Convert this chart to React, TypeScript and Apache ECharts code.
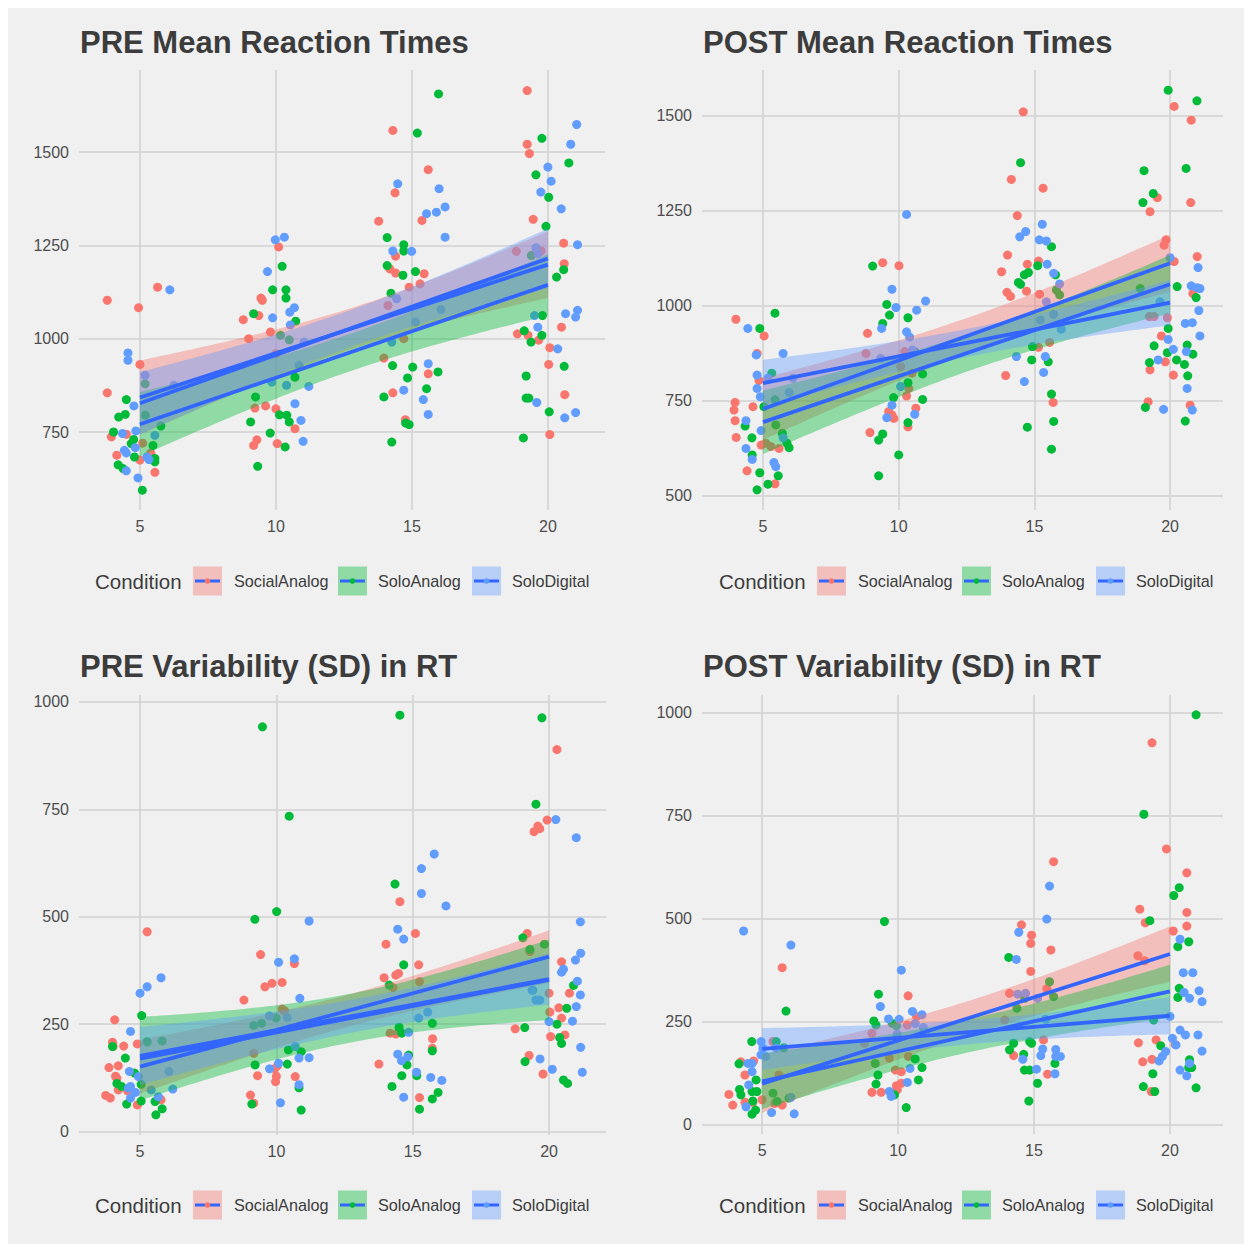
import React, { useEffect, useRef } from "react";
import * as echarts from "echarts";

// ---------------- data ----------------
const CONDITIONS = ["SocialAnalog", "SoloAnalog", "SoloDigital"];
const COLORS = ["#F8766D", "#00BA38", "#619CFF"];
const LINE_COLOR = "#3366FF";
const X_TICKS = [5, 10, 15, 20];
const MEAN_Y_TICKS_PRE = [750, 1000, 1250, 1500];
const MEAN_Y_TICKS_POST = [500, 750, 1000, 1250, 1500];
const SD_Y_TICKS = [0, 250, 500, 750, 1000];
const TITLES = ["PRE Mean Reaction Times", "POST Mean Reaction Times", "PRE Variability (SD) in RT", "POST Variability (SD) in RT"];

// [jittered x, value]
const PRE_MEAN_SOCIAL = [
  [3.8, 1103], [3.8, 855], [4.95, 1083], [5.0, 931], [5.65, 1138], [3.95, 737], [4.15, 688], [4.5, 744], [5.0, 675], [5.55, 642], [5.4, 694], [5.1, 720],
  [8.8, 1051], [9.0, 1000], [9.23, 814], [9.3, 729], [9.18, 714], [9.37, 1062], [9.45, 1109], [9.5, 1103], [9.8, 1018], [9.62, 820], [10.0, 960], [10.0, 812], [10.05, 719], [10.1, 1246], [10.7, 759],
  [13.78, 1315], [14.3, 1558], [14.38, 1391], [14.12, 1089], [13.97, 948], [14.19, 1187], [14.4, 1176], [14.4, 1221], [14.3, 855], [14.7, 1000], [14.76, 783], [14.9, 1138], [15.3, 1147], [15.37, 1317], [15.45, 1174], [15.6, 1453], [15.6, 906],
  [19.24, 1665], [19.24, 1521], [19.32, 1496], [19.46, 1320], [18.84, 1234], [18.88, 1013], [19.27, 1009], [19.66, 996], [20.07, 976], [20.03, 931], [20.07, 743], [19.75, 1235], [20.58, 1256], [20.6, 1201], [20.5, 1031], [20.62, 850],
];
const PRE_MEAN_SOLOANALOG = [
  [4.03, 750], [4.22, 790], [4.46, 797], [4.5, 837], [4.68, 719], [4.77, 730], [4.8, 683], [4.2, 662], [4.38, 652], [5.09, 594], [5.19, 879], [5.2, 795], [5.48, 714], [5.55, 679], [5.55, 670], [5.77, 766],
  [9.18, 1067], [9.25, 844], [9.07, 777], [9.79, 747], [9.33, 658], [9.88, 1131], [10.17, 1009], [10.23, 1194], [10.37, 1131], [10.37, 1109], [10.49, 997], [10.13, 796], [10.4, 795], [10.49, 777], [10.34, 710], [10.7, 897], [10.73, 1047],
  [14.09, 1271], [14.09, 1196], [14.23, 1122], [13.97, 844], [14.26, 723], [14.29, 928], [14.7, 1252], [14.7, 1235], [14.67, 1170], [14.84, 895], [14.77, 774], [14.9, 770], [15.03, 924], [15.13, 1180], [15.2, 1551], [15.54, 866], [15.96, 911], [15.98, 1656],
  [19.1, 734], [19.2, 900], [19.2, 841], [19.3, 841], [19.13, 1021], [19.38, 991], [19.39, 1223], [19.56, 1439], [19.78, 1537], [19.8, 1062], [19.78, 1009], [19.93, 1301], [20.03, 1379], [20.05, 804], [20.32, 1165], [20.58, 1185], [20.6, 926], [20.77, 1471],
];
const PRE_MEAN_SOLODIGITAL = [
  [4.56, 962], [4.56, 942], [4.78, 820], [5.19, 902], [4.36, 746], [4.85, 753], [4.43, 701], [4.5, 694], [4.83, 708], [5.26, 683], [4.93, 627], [4.5, 646], [6.1, 1131], [6.25, 875], [5.55, 741], [5.33, 676],
  [9.98, 1265], [10.31, 1272], [9.69, 1180], [9.88, 1056], [10.51, 1071], [10.68, 1083], [10.53, 1037], [11.04, 991], [11.21, 872], [10.7, 826], [10.92, 781], [11.0, 725], [9.85, 884], [10.39, 875], [10.85, 929],
  [14.48, 1415], [14.3, 1235], [14.99, 1234], [14.44, 1107], [14.26, 991], [14.7, 862], [15.54, 1335], [15.9, 1339], [16.22, 1353], [16.0, 1402], [16.22, 1272], [15.6, 933], [15.42, 837], [15.6, 797], [15.13, 1045], [16.07, 1078],
  [21.06, 1574], [20.84, 1521], [20.0, 1460], [20.12, 1422], [19.74, 1393], [20.49, 1348], [19.56, 1244], [19.63, 1228], [21.09, 1252], [21.09, 1076], [21.02, 1058], [20.65, 1067], [19.51, 1062], [19.63, 1031], [20.36, 973], [19.59, 829], [20.62, 788], [21.02, 802],
];

const POST_MEAN_SOCIAL = [
  [4.0, 965], [3.97, 746], [3.93, 726], [3.97, 698], [4.01, 654], [4.41, 566], [4.63, 735], [4.78, 875], [4.85, 804], [5.04, 921], [4.93, 634], [5.44, 532], [5.29, 630], [5.59, 625], [5.1, 639],
  [8.85, 928], [8.79, 875], [8.94, 667], [9.41, 1114], [10.01, 1106], [9.63, 722], [9.75, 713], [9.82, 704], [10.22, 880], [10.07, 840], [10.29, 763], [10.37, 783], [10.34, 682], [10.63, 731], [10.49, 823],
  [14.59, 1511], [14.15, 1333], [14.37, 1238], [14.01, 1134], [13.79, 1090], [13.99, 1036], [14.12, 1025], [14.74, 1110], [14.71, 1039], [15.32, 1310], [15.15, 1118], [15.19, 1031], [13.94, 817], [15.15, 891], [15.56, 904], [15.69, 746],
  [20.15, 1525], [20.78, 1489], [19.53, 1285], [19.26, 1248], [20.76, 1272], [19.85, 1174], [19.78, 1160], [21.0, 1130], [20.15, 1117], [20.84, 1033], [19.9, 969], [19.24, 972], [19.41, 972], [19.68, 921], [19.26, 832], [19.82, 853], [20.12, 818], [19.19, 748], [20.74, 739],
];
const POST_MEAN_SOLOANALOG = [
  [4.88, 941], [5.44, 981], [5.32, 823], [5.03, 735], [5.44, 753], [5.47, 687], [5.71, 665], [5.88, 639], [5.96, 627], [4.34, 684], [4.59, 653], [4.6, 608], [4.88, 561], [4.78, 516], [5.18, 531], [5.56, 553],
  [9.04, 1105], [9.56, 1004], [9.66, 976], [9.41, 954], [10.34, 969], [9.81, 759], [10.34, 798], [10.88, 821], [10.88, 754], [10.34, 693], [9.41, 663], [9.26, 647], [10.0, 608], [9.26, 553], [10.59, 880],
  [14.49, 1377], [14.41, 1062], [14.49, 1057], [14.63, 1082], [14.78, 1088], [15.12, 1106], [15.63, 1156], [15.78, 1082], [15.81, 1042], [15.93, 1029], [14.93, 893], [14.9, 858], [15.51, 853], [15.63, 768], [15.71, 696], [14.74, 681], [15.63, 623],
  [19.93, 1568], [20.99, 1540], [19.04, 1356], [20.59, 1362], [19.38, 1296], [19.0, 1272], [20.26, 1051], [20.96, 1022], [19.93, 941], [19.41, 895], [19.24, 851], [19.9, 877], [20.24, 858], [20.53, 846], [20.63, 897], [20.84, 873], [20.65, 816], [19.09, 733], [20.56, 697], [18.9, 1046],
];
const POST_MEAN_SOLODIGITAL = [
  [4.44, 941], [4.75, 871], [4.78, 818], [4.78, 783], [5.18, 810], [5.74, 875], [6.1, 810], [5.96, 772], [4.9, 761], [4.37, 698], [4.93, 672], [4.37, 625], [4.6, 596], [5.4, 588], [5.47, 577], [5.74, 653],
  [10.29, 1241], [9.75, 1044], [9.9, 996], [10.66, 989], [10.99, 1013], [9.37, 941], [10.29, 932], [10.4, 918], [9.75, 739], [9.56, 706], [10.59, 715], [10.07, 788], [9.34, 862], [10.51, 884],
  [15.29, 1215], [14.68, 1196], [14.46, 1182], [15.18, 1174], [15.44, 1171], [15.47, 1110], [15.71, 1086], [15.93, 1058], [15.44, 1011], [15.99, 939], [14.34, 867], [15.4, 867], [15.34, 825], [14.63, 801], [15.22, 963], [15.71, 978],
  [20.0, 1127], [21.03, 1101], [20.78, 1053], [21.0, 1048], [21.1, 1046], [21.06, 988], [21.1, 921], [20.82, 956], [20.56, 954], [19.93, 912], [20.12, 886], [20.6, 880], [19.56, 858], [20.63, 783], [19.76, 728], [20.82, 726], [19.63, 1011],
];

const PRE_SD_SOCIAL = [
  [4.07, 260], [5.26, 465], [3.99, 208], [4.01, 198], [4.4, 199], [4.9, 204], [3.86, 149], [4.2, 153], [4.1, 129], [4.15, 124], [4.2, 97], [3.74, 84], [3.91, 78], [4.9, 62], [4.54, 95], [5.77, 74],
  [8.81, 306], [9.05, 85], [9.17, 66], [9.42, 412], [9.58, 337], [9.84, 345], [10.21, 347], [10.21, 285], [10.3, 281], [10.66, 391], [9.31, 130], [9.94, 146], [10.0, 129], [9.97, 116], [10.04, 153], [10.69, 128], [9.17, 182],
  [14.02, 436], [14.53, 535], [13.95, 358], [14.28, 335], [14.38, 364], [14.48, 368], [15.1, 461], [15.22, 388], [15.25, 349], [13.76, 157], [14.17, 229], [14.38, 227], [15.73, 216], [15.72, 194], [15.25, 79],
  [20.29, 889], [19.93, 725], [19.45, 698], [19.66, 705], [19.59, 711], [19.2, 461], [19.3, 419], [18.76, 239], [19.27, 177], [19.78, 134], [20.0, 322], [20.03, 278], [20.06, 221], [20.46, 395], [20.36, 288], [20.46, 264], [20.58, 225], [20.75, 322],
];
const PRE_SD_SOLOANALOG = [
  [3.99, 198], [4.15, 112], [4.32, 105], [4.46, 171], [4.51, 64], [5.06, 270], [5.26, 209], [5.81, 211], [5.04, 110], [5.04, 71], [5.55, 70], [5.58, 39], [5.81, 53], [4.8, 136],
  [9.49, 942], [10.47, 734], [10.01, 512], [9.21, 494], [9.17, 247], [9.46, 252], [9.99, 264], [9.22, 155], [9.1, 64], [10.4, 157], [10.44, 190], [10.91, 186], [10.83, 102], [10.91, 50],
  [14.53, 969], [14.35, 576], [14.67, 388], [14.14, 341], [14.5, 243], [14.6, 229], [14.85, 178], [14.79, 155], [14.6, 130], [14.24, 105], [15.15, 130], [15.25, 52], [15.72, 252], [15.72, 188], [15.72, 76], [15.93, 91],
  [19.74, 963], [19.52, 762], [19.04, 451], [19.3, 424], [19.83, 436], [19.11, 242], [19.12, 163], [20.29, 250], [20.39, 219], [20.46, 205], [20.65, 287], [20.9, 340], [20.53, 120], [20.68, 112], [19.4, 329],
];
const PRE_SD_SOLODIGITAL = [
  [5.0, 322], [5.26, 337], [5.77, 358], [4.65, 233], [4.61, 140], [4.94, 128], [4.57, 101], [4.65, 105], [4.83, 91], [4.65, 78], [5.41, 97], [5.67, 81], [6.2, 99], [6.06, 140],
  [10.08, 394], [10.66, 402], [11.2, 490], [10.86, 310], [9.75, 269], [10.4, 265], [10.69, 198], [10.83, 171], [11.2, 172], [10.08, 159], [9.75, 146], [10.15, 67], [10.83, 109],
  [15.79, 646], [15.32, 612], [15.32, 554], [16.22, 525], [14.45, 471], [14.67, 448], [14.85, 231], [15.22, 264], [14.45, 180], [14.59, 165], [14.82, 174], [15.14, 138], [15.66, 126], [16.07, 119], [14.67, 80], [15.55, 278],
  [20.25, 726], [21.0, 684], [21.15, 488], [21.16, 415], [20.97, 399], [21.04, 350], [21.15, 318], [21.0, 291], [20.46, 371], [20.53, 378], [20.86, 257], [20.0, 256], [21.16, 196], [19.67, 169], [20.12, 145], [21.22, 138], [19.52, 306], [19.66, 306], [19.38, 329],
];

const POST_SD_SOCIAL = [
  [3.78, 74], [3.92, 48], [4.22, 153], [4.37, 121], [4.69, 155], [4.37, 55], [4.66, 55], [5.74, 381], [5.4, 202], [5.62, 121], [5.0, 61], [5.74, 48], [5.47, 52],
  [8.76, 198], [9.04, 222], [9.04, 79], [9.38, 79], [10.37, 313], [10.34, 242], [10.68, 263], [9.9, 133], [10.12, 129], [9.94, 95], [10.12, 101], [9.97, 85], [10.38, 166], [9.68, 162],
  [15.72, 638], [14.54, 485], [14.91, 460], [14.88, 440], [14.88, 372], [15.62, 424], [14.1, 319], [15.47, 330], [14.25, 168], [15.35, 206], [15.5, 123], [13.92, 254],
  [19.34, 926], [19.87, 669], [20.62, 611], [18.89, 523], [19.09, 490], [20.12, 470], [20.62, 515], [20.62, 482], [18.82, 410], [19.07, 398], [18.84, 199], [19.0, 153], [19.34, 159], [19.49, 206], [19.31, 81], [20.19, 195],
];
const POST_SD_SOLOANALOG = [
  [4.62, 202], [4.15, 148], [4.17, 86], [4.22, 73], [4.63, 81], [4.81, 81], [4.78, 109], [4.66, 58], [4.63, 26], [4.76, 36], [5.52, 202], [5.88, 276], [5.8, 187], [5.4, 77], [5.55, 57], [5.99, 65],
  [9.5, 493], [9.28, 317], [9.11, 252], [9.19, 242], [9.79, 246], [9.94, 240], [9.16, 149], [9.26, 121], [9.19, 99], [10.63, 160], [10.75, 109], [10.88, 139], [10.3, 42], [9.87, 73],
  [15.57, 347], [14.07, 406], [14.25, 198], [14.1, 182], [14.62, 171], [14.65, 133], [14.84, 133], [14.84, 202], [14.91, 198], [15.13, 101], [14.81, 58], [15.77, 149], [14.37, 283], [14.66, 307], [15.72, 311],
  [20.96, 994], [19.04, 753], [19.26, 495], [20.14, 556], [20.34, 575], [20.29, 432], [20.69, 444], [20.34, 331], [20.29, 309], [19.02, 93], [19.37, 124], [19.44, 81], [19.66, 192], [20.72, 158], [20.8, 139], [20.69, 139], [20.96, 90], [19.4, 254],
];
const POST_SD_SOLODIGITAL = [
  [4.32, 470], [6.06, 436], [4.96, 202], [5.03, 186], [4.96, 170], [4.63, 149], [4.48, 149], [4.63, 129], [4.51, 97], [4.41, 44], [5.35, 30], [6.18, 27], [6.06, 67], [5.52, 186], [5.13, 166],
  [10.12, 375], [9.35, 287], [9.65, 257], [10.04, 256], [10.53, 275], [10.88, 267], [10.93, 236], [10.63, 246], [9.68, 81], [9.75, 69], [10.34, 103], [10.44, 137], [9.97, 220],
  [15.57, 579], [15.47, 499], [14.44, 467], [14.35, 401], [14.4, 317], [14.69, 319], [15.13, 307], [15.32, 184], [15.25, 168], [14.59, 159], [15.09, 135], [15.8, 183], [15.8, 166], [15.97, 166], [15.77, 124], [15.43, 256],
  [20.37, 450], [20.49, 369], [20.84, 369], [20.52, 321], [20.72, 307], [21.07, 325], [21.18, 299], [21.03, 218], [21.18, 179], [20.09, 210], [20.37, 230], [20.22, 194], [20.57, 218], [19.6, 155], [19.72, 166], [19.84, 178], [20.37, 133], [20.62, 119], [20.72, 149], [20.0, 263],
];

// ---------------- layout ----------------
const OFF = 8; // body margin
const PANELS = [
  { title: TITLES[0], data: [PRE_MEAN_SOCIAL, PRE_MEAN_SOLOANALOG, PRE_MEAN_SOLODIGITAL], yTicks: MEAN_Y_TICKS_PRE, x: [2.76, 22.1], y: [541, 1720], grid: { left: 79, top: 70, width: 526, height: 440 }, titlePos: [80, 44], legendPos: [95, 581] },
  { title: TITLES[1], data: [POST_MEAN_SOCIAL, POST_MEAN_SOLOANALOG, POST_MEAN_SOLODIGITAL], yTicks: MEAN_Y_TICKS_POST, x: [2.75, 21.95], y: [463, 1621], grid: { left: 702, top: 70, width: 521, height: 440 }, titlePos: [703, 44], legendPos: [719, 581] },
  { title: TITLES[2], data: [PRE_SD_SOCIAL, PRE_SD_SOLOANALOG, PRE_SD_SOLODIGITAL], yTicks: SD_Y_TICKS, x: [2.76, 22.09], y: [-8, 1016], grid: { left: 79, top: 695, width: 527, height: 440 }, titlePos: [80, 668], legendPos: [95, 1205] },
  { title: TITLES[3], data: [POST_SD_SOCIAL, POST_SD_SOLOANALOG, POST_SD_SOLODIGITAL], yTicks: SD_Y_TICKS, x: [2.79, 21.95], y: [-22, 1042], grid: { left: 702, top: 695, width: 521, height: 439 }, titlePos: [703, 668], legendPos: [719, 1205] },
];

const FONT = "'Liberation Sans', Arial, sans-serif";

function hexA(hex: string, a: number) {
  const n = parseInt(hex.slice(1), 16);
  return `rgba(${(n >> 16) & 255},${(n >> 8) & 255},${n & 255},${a})`;
}

function tQuant(df: number) {
  const z = 1.959964;
  return z + (z ** 3 + z) / (4 * df) + (5 * z ** 5 + 16 * z ** 3 + 3 * z) / (96 * df * df);
}

// ordinary least squares on the design levels (un-jittered x), with 95% CI like geom_smooth(method = "lm")
function lmFit(points: number[][]) {
  const xs = points.map((p) => Math.round(p[0] / 5) * 5);
  const ys = points.map((p) => p[1]);
  const n = xs.length;
  const xb = xs.reduce((a, b) => a + b, 0) / n;
  const yb = ys.reduce((a, b) => a + b, 0) / n;
  let sxx = 0, sxy = 0;
  for (let i = 0; i < n; i++) { sxx += (xs[i] - xb) ** 2; sxy += (xs[i] - xb) * (ys[i] - yb); }
  const b = sxy / sxx;
  const a = yb - b * xb;
  let rss = 0;
  for (let i = 0; i < n; i++) rss += (ys[i] - a - b * xs[i]) ** 2;
  const s = Math.sqrt(rss / (n - 2));
  const t = tQuant(n - 2);
  const x0 = Math.min(...xs), x1 = Math.max(...xs);
  const band: number[][] = [];
  const steps = 80;
  for (let k = 0; k < steps; k++) {
    const x = x0 + ((x1 - x0) * k) / (steps - 1);
    const yh = a + b * x;
    const se = s * Math.sqrt(1 / n + (x - xb) ** 2 / sxx);
    band.push([x, yh - t * se, yh + t * se, yh]);
  }
  return { band, line: [[x0, a + b * x0], [x1, a + b * x1]] };
}

function buildOption() {
  const grids: any[] = [], xAxes: any[] = [], yAxes: any[] = [], series: any[] = [], titles: any[] = [], graphics: any[] = [];
  const plain = (v: number) => String(v);
  PANELS.forEach((p, i) => {
    grids.push({ left: p.grid.left - OFF, top: p.grid.top - OFF, width: p.grid.width, height: p.grid.height, containLabel: false });
    xAxes.push({
      type: "value", gridIndex: i, min: p.x[0], max: p.x[1],
      axisLine: { show: false },
      axisTick: { show: false, customValues: X_TICKS },
      axisLabel: { customValues: X_TICKS, formatter: plain, color: "#4D4D4D", fontSize: 16, fontFamily: FONT, margin: 8 },
      splitLine: { show: true, lineStyle: { color: "#D2D2D2", width: 1.6 } },
    });
    yAxes.push({
      type: "value", gridIndex: i, min: p.y[0], max: p.y[1],
      axisLine: { show: false },
      axisTick: { show: false, customValues: p.yTicks },
      axisLabel: { customValues: p.yTicks, formatter: plain, color: "#4D4D4D", fontSize: 16, fontFamily: FONT, margin: 10 },
      splitLine: { show: true, lineStyle: { color: "#D2D2D2", width: 1.6 } },
    });
    titles.push({
      text: p.title, left: p.titlePos[0] - OFF, top: p.titlePos[1] - OFF - 17, padding: 0,
      textStyle: { fontSize: 31, fontWeight: "bold", color: "#3C3C3C", fontFamily: FONT },
    });
    // jittered points
    p.data.forEach((d, k) => {
      series.push({
        type: "scatter", name: CONDITIONS[k], xAxisIndex: i, yAxisIndex: i, data: d,
        symbolSize: 9, itemStyle: { color: COLORS[k], opacity: 1 }, z: 2, silent: true,
      });
    });
    // smooths: ribbon then line, group by group
    p.data.forEach((d, k) => {
      const fit = lmFit(d);
      series.push({
        type: "custom", name: CONDITIONS[k] + " CI", xAxisIndex: i, yAxisIndex: i, z: 3, silent: true, clip: false,
        data: [fit.line[0]],
        renderItem: (_params: any, api: any) => {
          const pts: number[][] = [];
          fit.band.forEach((b) => pts.push(api.coord([b[0], b[2]])));
          for (let j = fit.band.length - 1; j >= 0; j--) pts.push(api.coord([fit.band[j][0], fit.band[j][1]]));
          return { type: "polygon", shape: { points: pts }, style: { fill: hexA(COLORS[k], 0.4), stroke: "none" } };
        },
      });
      series.push({
        type: "line", name: CONDITIONS[k] + " fit", xAxisIndex: i, yAxisIndex: i, z: 3, silent: true,
        data: fit.line, showSymbol: false, symbol: "none",
        lineStyle: { color: LINE_COLOR, width: 3.8 },
      });
    });
    // legend
    const lx = p.legendPos[0] - OFF, ly = p.legendPos[1] - OFF;
    graphics.push({ type: "text", x: lx, y: ly, style: { text: "Condition", fontSize: 20.5, fontFamily: FONT, fill: "#3C3C3C", verticalAlign: "middle" } });
    const boxX = [98, 243, 377];
    const textX = [139, 283, 417];
    CONDITIONS.forEach((c, k) => {
      const bx = lx + boxX[k];
      graphics.push({ type: "rect", shape: { x: bx, y: ly - 14.5, width: 29, height: 29 }, style: { fill: hexA(COLORS[k], 0.4) } });
      graphics.push({ type: "line", shape: { x1: bx + 2, y1: ly, x2: bx + 27, y2: ly }, style: { stroke: LINE_COLOR, lineWidth: 3 } });
      graphics.push({ type: "circle", shape: { cx: bx + 14.5, cy: ly, r: 2.8 }, style: { fill: COLORS[k] } });
      graphics.push({ type: "text", x: lx + textX[k], y: ly, style: { text: c, fontSize: 16.2, fontFamily: FONT, fill: "#3C3C3C", verticalAlign: "middle" } });
    });
  });
  return {
    animation: false,
    backgroundColor: "#F0F0F0",
    title: titles,
    grid: grids,
    xAxis: xAxes,
    yAxis: yAxes,
    series,
    graphic: { elements: graphics },
  };
}

export default function App() {
  const ref = useRef<HTMLDivElement>(null);
  useEffect(() => {
    const chart = echarts.init(ref.current!, null, { renderer: "svg" });
    chart.setOption(buildOption() as any);
    return () => chart.dispose();
  }, []);
  return <div ref={ref} style={{ width: 1236, height: 1236 }} />;
}
